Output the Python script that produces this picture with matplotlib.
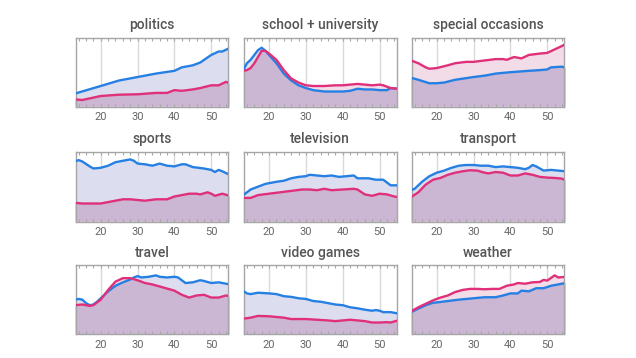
import numpy as np
import matplotlib
matplotlib.use("Agg")
import matplotlib.pyplot as plt

# ---------------- data (share of panel height) ----------------
titles = ["politics", "school + university", "special occasions",
          "sports", "television", "transport",
          "travel", "video games", "weather"]

politics_age_m = [13, 20, 25, 30, 35, 40, 42, 45, 47, 50, 52, 53, 55]
politics_m = [0.19, 0.30, 0.38, 0.43, 0.48, 0.52, 0.57, 0.60, 0.64, 0.75, 0.80, 0.80, 0.85]
politics_age_f = [13, 15, 20, 25, 30, 35, 38, 40, 42, 45, 47, 50, 52, 54, 55]
politics_f = [0.106, 0.097, 0.155, 0.174, 0.18, 0.20, 0.20, 0.24, 0.23, 0.25, 0.27, 0.31, 0.31, 0.36, 0.34]

school_age_m = [13, 14, 15, 16, 17, 18, 19, 20, 22, 24, 26, 28, 30, 32, 35, 38, 40, 42, 44, 46, 48, 50, 52, 53, 55]
school_m = [0.53, 0.63, 0.68, 0.75, 0.82, 0.855, 0.81, 0.75, 0.63, 0.48, 0.38, 0.31, 0.27, 0.24, 0.22, 0.22, 0.22, 0.23, 0.26, 0.25, 0.25, 0.24, 0.24, 0.27, 0.26]
school_age_f = [13, 14, 15, 16, 17, 18, 19, 20, 22, 24, 26, 28, 30, 32, 35, 38, 40, 42, 44, 46, 48, 50, 51, 53, 55]
school_f = [0.52, 0.53, 0.56, 0.63, 0.72, 0.81, 0.81, 0.77, 0.68, 0.53, 0.41, 0.35, 0.31, 0.30, 0.30, 0.31, 0.31, 0.32, 0.33, 0.32, 0.31, 0.32, 0.31, 0.27, 0.26]

special_age_m = [13, 15, 18, 20, 22, 25, 30, 33, 36, 40, 45, 48, 50, 51, 54, 55]
special_m = [0.42, 0.39, 0.34, 0.34, 0.35, 0.39, 0.43, 0.45, 0.48, 0.50, 0.52, 0.53, 0.54, 0.57, 0.58, 0.565]
special_age_f = [13, 15, 17, 18, 20, 23, 25, 28, 30, 33, 36, 38, 39, 41, 43, 45, 48, 50, 52, 54, 55]
special_f = [0.67, 0.63, 0.57, 0.55, 0.56, 0.60, 0.63, 0.65, 0.65, 0.67, 0.69, 0.69, 0.68, 0.72, 0.70, 0.75, 0.77, 0.78, 0.83, 0.88, 0.91]

sports_age_m = [13, 14, 15, 17, 18, 20, 22, 24, 26, 28, 29, 30, 32, 34, 36, 38, 40, 42, 43, 45, 48, 50, 51, 52, 53, 55]
sports_m = [0.86, 0.88, 0.86, 0.79, 0.76, 0.77, 0.80, 0.85, 0.87, 0.89, 0.87, 0.83, 0.82, 0.80, 0.83, 0.80, 0.79, 0.82, 0.82, 0.78, 0.76, 0.74, 0.71, 0.74, 0.72, 0.67]
sports_age_f = [13, 15, 18, 20, 23, 26, 28, 30, 32, 35, 38, 40, 42, 44, 46, 47, 49, 50, 51, 53, 55]
sports_f = [0.27, 0.26, 0.26, 0.26, 0.29, 0.32, 0.32, 0.31, 0.30, 0.32, 0.32, 0.36, 0.38, 0.40, 0.40, 0.39, 0.42, 0.40, 0.37, 0.40, 0.37]

tv_age_m = [13, 15, 17, 19, 20, 22, 24, 26, 28, 30, 31, 33, 35, 37, 39, 41, 43, 44, 46, 47, 49, 51, 53, 55]
tv_m = [0.38, 0.46, 0.50, 0.54, 0.55, 0.57, 0.585, 0.62, 0.64, 0.65, 0.67, 0.66, 0.65, 0.66, 0.64, 0.65, 0.66, 0.62, 0.62, 0.62, 0.60, 0.60, 0.52, 0.52]
tv_age_f = [13, 15, 17, 20, 23, 26, 29, 31, 33, 35, 37, 40, 43, 44, 46, 48, 50, 52, 54, 55]
tv_f = [0.34, 0.34, 0.38, 0.40, 0.42, 0.44, 0.46, 0.46, 0.45, 0.47, 0.45, 0.46, 0.47, 0.46, 0.39, 0.37, 0.40, 0.39, 0.36, 0.35]

transport_age_m = [13, 14, 16, 18, 20, 22, 24, 26, 28, 30, 32, 34, 36, 38, 40, 42, 44, 45, 46, 47, 49, 51, 53, 55]
transport_m = [0.45, 0.47, 0.57, 0.65, 0.70, 0.73, 0.77, 0.80, 0.81, 0.81, 0.80, 0.80, 0.78, 0.79, 0.78, 0.77, 0.75, 0.77, 0.81, 0.79, 0.73, 0.74, 0.73, 0.72]
transport_age_f = [13, 15, 17, 19, 21, 23, 25, 27, 29, 31, 33, 34, 36, 38, 40, 42, 44, 46, 48, 50, 52, 54, 55]
transport_f = [0.35, 0.42, 0.53, 0.60, 0.625, 0.67, 0.70, 0.72, 0.735, 0.73, 0.70, 0.69, 0.71, 0.70, 0.66, 0.66, 0.69, 0.67, 0.64, 0.63, 0.625, 0.615, 0.59]

travel_age_m = [13, 14, 15, 16, 17, 18, 19, 20, 22, 24, 26, 28, 29, 30, 31, 33, 35, 36, 38, 40, 41, 43, 45, 47, 48, 50, 52, 55]
travel_m = [0.50, 0.51, 0.50, 0.45, 0.42, 0.43, 0.47, 0.52, 0.62, 0.70, 0.75, 0.79, 0.82, 0.84, 0.82, 0.83, 0.85, 0.83, 0.82, 0.83, 0.82, 0.74, 0.75, 0.78, 0.77, 0.74, 0.75, 0.72]
travel_age_f = [13, 15, 17, 18, 20, 22, 24, 26, 28, 30, 32, 34, 36, 38, 40, 42, 44, 46, 48, 50, 52, 54, 55]
travel_f = [0.42, 0.43, 0.41, 0.42, 0.50, 0.64, 0.76, 0.81, 0.81, 0.78, 0.74, 0.72, 0.69, 0.66, 0.63, 0.57, 0.53, 0.56, 0.57, 0.53, 0.53, 0.56, 0.55]

video_age_m = [13, 14, 15, 17, 20, 22, 24, 26, 28, 30, 32, 34, 36, 38, 40, 42, 44, 46, 48, 49, 50, 51, 53, 55]
video_m = [0.625, 0.59, 0.58, 0.60, 0.59, 0.58, 0.55, 0.54, 0.52, 0.51, 0.48, 0.47, 0.45, 0.43, 0.42, 0.39, 0.375, 0.355, 0.34, 0.35, 0.34, 0.32, 0.32, 0.30]
video_age_f = [13, 15, 17, 20, 22, 24, 26, 28, 30, 33, 36, 38, 40, 42, 44, 46, 48, 50, 52, 53, 55]
video_f = [0.225, 0.24, 0.265, 0.26, 0.25, 0.24, 0.22, 0.22, 0.22, 0.21, 0.20, 0.19, 0.20, 0.21, 0.20, 0.19, 0.17, 0.17, 0.175, 0.17, 0.20]

weather_age_m = [13, 15, 17, 19, 20, 23, 26, 28, 30, 33, 36, 38, 40, 42, 43, 45, 47, 49, 51, 53, 55]
weather_m = [0.32, 0.37, 0.42, 0.455, 0.46, 0.48, 0.50, 0.51, 0.52, 0.535, 0.535, 0.56, 0.59, 0.59, 0.63, 0.62, 0.665, 0.665, 0.70, 0.72, 0.74]
weather_age_f = [13, 15, 17, 19, 21, 23, 25, 27, 29, 31, 33, 35, 37, 39, 41, 42, 44, 46, 48, 49, 50, 52, 53, 55]
weather_f = [0.33, 0.39, 0.44, 0.49, 0.53, 0.56, 0.61, 0.64, 0.655, 0.655, 0.65, 0.655, 0.655, 0.70, 0.72, 0.74, 0.73, 0.75, 0.755, 0.785, 0.775, 0.85, 0.82, 0.83]

xticks = [20, 30, 40, 50]

panels = [
    (politics_age_m, politics_m, politics_age_f, politics_f),
    (school_age_m, school_m, school_age_f, school_f),
    (special_age_m, special_m, special_age_f, special_f),
    (sports_age_m, sports_m, sports_age_f, sports_f),
    (tv_age_m, tv_m, tv_age_f, tv_f),
    (transport_age_m, transport_m, transport_age_f, transport_f),
    (travel_age_m, travel_m, travel_age_f, travel_f),
    (video_age_m, video_m, video_age_f, video_f),
    (weather_age_m, weather_m, weather_age_f, weather_f),
]

# ---------------- styling ----------------
BLUE = "#2680e3"
PINK = "#e0307a"
BLUE_FILL = "#dcdeef"
PINK_FILL = "#f1dce8"
MIX_FILL = "#cbb6d4"
FRAME = "#a6a6a6"
GRID = "#d9d9d9"
TEXT = "#555555"

plt.rcParams["font.family"] = ["Roboto", "DejaVu Sans"]

fig = plt.figure(figsize=(6.36, 3.58), dpi=100)
W, H = 636.0, 358.0
col_left = [75.7, 244.0, 411.7]
col_w = 152.5
row_top = [37.7, 151.7, 265.0]
row_bot = [106.7, 221.7, 334.3]

for i, (xm, ym, xf, yf) in enumerate(panels):
    r, c = divmod(i, 3)
    ax = fig.add_axes([col_left[c] / W, 1 - row_bot[r] / H,
                       col_w / W, (row_bot[r] - row_top[r]) / H])
    ax.set_xlim(13.2, 54.6)
    ax.set_ylim(0, 1)
    for x in xticks:
        ax.axvline(x, color=GRID, lw=1.0, zorder=0.5)
    poly_b = ax.fill_between(xm, 0, ym, color=BLUE_FILL, lw=0, zorder=1)
    ax.fill_between(xf, 0, yf, color=PINK_FILL, lw=0, zorder=1.1)
    mix = ax.fill_between(xf, 0, yf, color=MIX_FILL, lw=0, zorder=1.2)
    mix.set_clip_path(poly_b.get_paths()[0], ax.transData)
    ax.plot(xm, ym, color=BLUE, lw=1.7, zorder=3, solid_joinstyle="round")
    ax.plot(xf, yf, color=PINK, lw=1.7, zorder=3, solid_joinstyle="round")
    ax.set_xticks(xticks)
    ax.set_xticklabels([str(t) for t in xticks])
    ax.set_xticks(np.arange(14, 55, 2), minor=True)
    ax.tick_params(axis="x", which="both", direction="in", top=True, bottom=True,
                   color=FRAME, length=2, width=0.8, labelsize=8,
                   labelcolor="#666666", pad=4)
    ax.tick_params(axis="y", left=False, right=False, labelleft=False)
    for s in ax.spines.values():
        s.set_color(FRAME)
        s.set_linewidth(1.0)
    ax.set_title(titles[i], fontsize=10, color=TEXT, pad=6, fontweight="medium")

fig.savefig("out.png", dpi=100)
